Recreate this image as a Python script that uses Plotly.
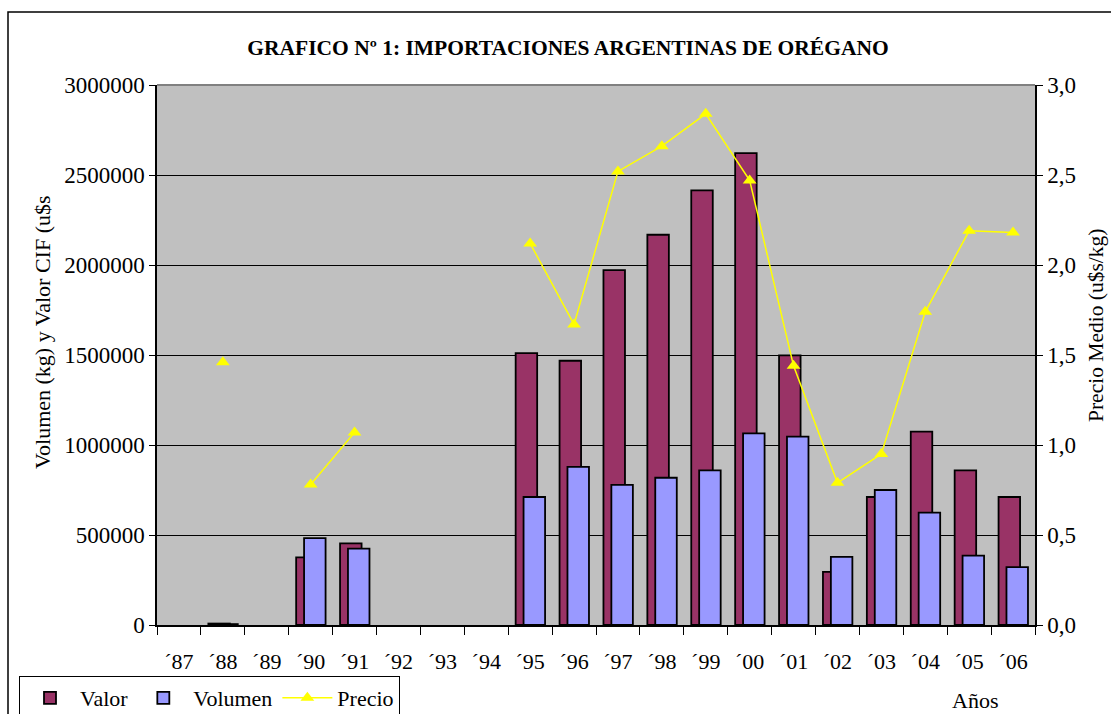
import plotly.graph_objects as go

years = ["´87", "´88", "´89", "´90", "´91", "´92", "´93", "´94", "´95", "´96",
         "´97", "´98", "´99", "´00", "´01", "´02", "´03", "´04", "´05", "´06"]
valor = [None, 8000, None, 376000, 454000, None, None, None, 1510000, 1468000,
         1972000, 2168000, 2415000, 2622000, 1498000, 295000, 711000, 1074000, 859000, 711000]
volumen = [None, 5000, None, 483000, 424000, None, None, None, 711000, 878000,
           779000, 818000, 859000, 1065000, 1046000, 378000, 750000, 624000, 385000, 322000]
precio = [None, 1.46, None, 0.78, 1.07, None, None, None, 2.12, 1.67,
          2.52, 2.66, 2.84, 2.47, 1.44, 0.79, 0.95, 1.74, 2.19, 2.18]

FONT = "Liberation Serif"
FS = 23

fig = go.Figure()
fig.add_trace(go.Bar(
    x=years, y=valor, name="Valor", offset=-0.33, width=0.49,
    marker=dict(color="#993366", line=dict(color="black", width=1.8)),
))
fig.add_trace(go.Bar(
    x=years, y=volumen, name="Volumen", offset=-0.15, width=0.49,
    marker=dict(color="#9999FF", line=dict(color="black", width=1.8)),
))
fig.add_trace(go.Scatter(
    x=years, y=precio, name="Precio", yaxis="y2", mode="lines+markers",
    connectgaps=False,
    line=dict(color="#FFFF00", width=1.5),
    marker=dict(symbol="triangle-up", size=12, color="#FFFF00"),
))

fig.update_layout(
    width=1111, height=714,
    margin=dict(l=157, r=76, t=85, b=89, autoexpand=False),
    paper_bgcolor="white", plot_bgcolor="#C0C0C0",
    barmode="overlay",
    separators=",.",
    font=dict(family=FONT, size=FS, color="black"),
    title=dict(text="<b>GRAFICO Nº 1: IMPORTACIONES ARGENTINAS DE ORÉGANO</b>",
               x=568/1111, xanchor="center", xref="container",
               y=1-47/714, yanchor="middle", yref="container",
               font=dict(family=FONT, size=21.5, color="black")),
    xaxis=dict(
        type="category", tickson="boundaries", ticks="outside", ticklen=8,
        tickcolor="black", showline=True, linecolor="black", linewidth=1.5,
        showgrid=False, ticklabelstandoff=16, range=[-0.5, 19.5], automargin=False,
        tickfont=dict(size=22),
    ),
    yaxis=dict(
        range=[0, 3000000], dtick=500000, tickformat="d",
        showgrid=True, gridcolor="black", gridwidth=1,
        ticks="outside", ticklen=6, tickcolor="black",
        showline=True, linecolor="black", linewidth=1.5,
        zeroline=False, automargin=False,
    ),
    yaxis2=dict(
        range=[0, 3], dtick=0.5, tickformat=".1f", overlaying="y", side="right",
        showgrid=False, ticks="outside", ticklen=6, tickcolor="black",
        showline=True, linecolor="black", linewidth=1.5, zeroline=False, automargin=False,
    ),
    legend=dict(
        orientation="h", xref="container", yref="container",
        x=19/1111, y=1-676/714, xanchor="left", yanchor="top",
        bordercolor="black", borderwidth=1, bgcolor="white",
        font=dict(family=FONT, size=22), traceorder="normal",
        itemwidth=50,
    ),
    showlegend=True,
)

# top border of plot area (grey)
fig.add_shape(type="line", xref="paper", yref="paper", x0=0, x1=1, y0=1, y1=1,
              line=dict(color="#808080", width=2))
# outer chart border
fig.add_shape(type="rect", xref="paper", yref="paper",
              x0=(8-157)/878, x1=1.12, y0=(625-12)/540, y1=-0.25,
              line=dict(color="black", width=1.5), fillcolor="rgba(0,0,0,0)", layer="below")

# axis titles
fig.add_annotation(text="Volumen (kg) y Valor CIF (u$s", xref="paper", yref="paper",
                   x=(42-157)/878, y=(625-332)/540, xanchor="center", yanchor="middle",
                   textangle=-90, showarrow=False, font=dict(family=FONT, size=22))
fig.add_annotation(text="Precio Medio (u$s/kg)", xref="paper", yref="paper",
                   x=(1096-157)/878, y=(625-326)/540, xanchor="center", yanchor="middle",
                   textangle=-90, showarrow=False, font=dict(family=FONT, size=21.5))
fig.add_annotation(text="Años", xref="paper", yref="paper",
                   x=(975-157)/878, y=(625-700)/540, xanchor="center", yanchor="middle",
                   showarrow=False, font=dict(family=FONT, size=22))

fig.write_html("out.html", config={"displayModeBar": False},
               post_script="document.body.style.margin='0';document.body.style.overflow='hidden';")
